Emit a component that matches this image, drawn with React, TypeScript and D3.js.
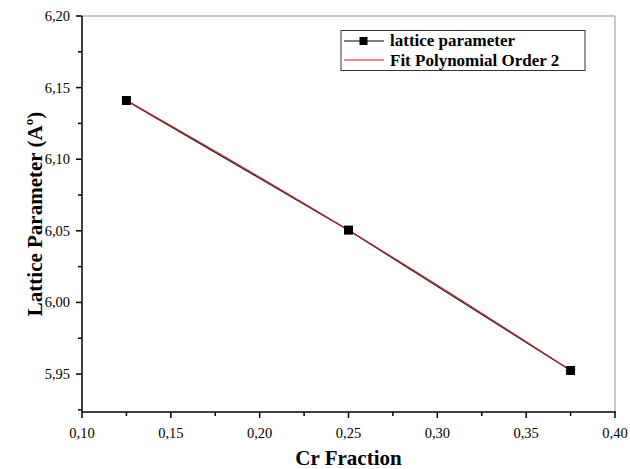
import React from "react";
import * as d3 from "d3";

const crFraction = [0.125, 0.25, 0.375];
const latticeParameter = [6.141, 6.0505, 5.9525];
const xTicks = [0.1, 0.15, 0.2, 0.25, 0.3, 0.35, 0.4];
const yTicks = [5.95, 6.0, 6.05, 6.1, 6.15, 6.2];
const legendLabels = ["lattice parameter", "Fit Polynomial Order 2"];

const W = 630, H = 469;
const L = 82, R = 615, T = 16, B = 412;
const FONT = "'Liberation Serif', 'DejaVu Serif', serif";

function quadFit(xs: number[], ys: number[]) {
  return (x: number) => {
    let s = 0;
    for (let i = 0; i < xs.length; i++) {
      let t = ys[i];
      for (let j = 0; j < xs.length; j++) if (j !== i) t *= (x - xs[j]) / (xs[i] - xs[j]);
      s += t;
    }
    return s;
  };
}

export default function App() {
  const x = d3.scaleLinear().domain([0.1, 0.4]).range([L, R]);
  const y = d3.scaleLinear().domain([5.9235, 6.2]).range([B, T]);
  const fmt = (v: number) => d3.format(".2f")(v).replace(".", ",");
  const xMinor = d3.range(0.125, 0.4, 0.05);
  const yMinor = d3.range(5.925, 6.2, 0.05);
  const pts = crFraction.map((c, i) => [c, latticeParameter[i]] as [number, number]);
  const line = d3.line<[number, number]>().x(d => x(d[0])).y(d => y(d[1]));
  const f = quadFit(crFraction, latticeParameter);
  const fitPts = d3.range(0, 61).map(i => {
    const xv = crFraction[0] + (crFraction[2] - crFraction[0]) * i / 60;
    return [xv, f(xv)] as [number, number];
  });

  return (
    <svg width={W} height={H} style={{ position: "absolute", left: 0, top: 0, background: "#fff" }}>
      <rect width={W} height={H} fill="#fff" />
      <line x1={L} x2={R} y1={T} y2={T} stroke="#b4b4b4" strokeWidth={1.5} />
      <line x1={R} x2={R} y1={T} y2={B} stroke="#b4b4b4" strokeWidth={1.5} />
      <line x1={L} x2={R + 0.75} y1={B} y2={B} stroke="#000" strokeWidth={1.5} />
      <line x1={L} x2={L} y1={T} y2={B + 0.75} stroke="#000" strokeWidth={1.5} />
      {xTicks.map(t => (
        <g key={"xt" + t}>
          <line x1={x(t)} x2={x(t)} y1={B} y2={B + 6} stroke="#000" strokeWidth={1.5} />
          <text x={x(t)} y={B + 26} textAnchor="middle" fontFamily={FONT} fontSize={14.5}>{fmt(t)}</text>
        </g>
      ))}
      {xMinor.map(t => (
        <line key={"xm" + t} x1={x(t)} x2={x(t)} y1={B} y2={B + 4} stroke="#000" strokeWidth={1.5} />
      ))}
      {yTicks.map(t => (
        <g key={"yt" + t}>
          <line x1={L - 6} x2={L} y1={y(t)} y2={y(t)} stroke="#000" strokeWidth={1.5} />
          <text x={L - 12} y={y(t) + 5} textAnchor="end" fontFamily={FONT} fontSize={14.5}>{fmt(t)}</text>
        </g>
      ))}
      {yMinor.map(t => (
        <line key={"ym" + t} x1={L - 4} x2={L} y1={y(t)} y2={y(t)} stroke="#000" strokeWidth={1.5} />
      ))}
      <path d={line(pts) || ""} fill="none" stroke="#333" strokeWidth={1.5} />
      <path d={line(fitPts) || ""} fill="none" stroke="#e8191e" strokeWidth={1} />
      {pts.map((p, i) => (
        <rect key={i} x={x(p[0]) - 4.5} y={y(p[1]) - 4.5} width={9} height={9} fill="#000" />
      ))}
      <rect x={341} y={30.5} width={244} height={40} fill="#fff" stroke="#333" strokeWidth={1} />
      <line x1={344} x2={384} y1={41} y2={41} stroke="#000" strokeWidth={1} />
      <rect x={359.5} y={37} width={8} height={8} fill="#000" />
      <text x={390} y={46} fontFamily={FONT} fontSize={17} fontWeight="bold">{legendLabels[0]}</text>
      <line x1={344} x2={384} y1={60} y2={60} stroke="#e8191e" strokeWidth={1} />
      <text x={390} y={66} fontFamily={FONT} fontSize={17} fontWeight="bold">{legendLabels[1]}</text>
      <text x={(L + R) / 2} y={465} textAnchor="middle" fontFamily={FONT} fontSize={21} fontWeight="bold">Cr Fraction</text>
      <text transform={`translate(42, ${(T + B) / 2}) rotate(-90)`} textAnchor="middle" fontFamily={FONT} fontSize={21} fontWeight="bold">
        Lattice Parameter (A<tspan dy={-9} fontSize={13}>o</tspan><tspan dy={9}>)</tspan>
      </text>
    </svg>
  );
}
